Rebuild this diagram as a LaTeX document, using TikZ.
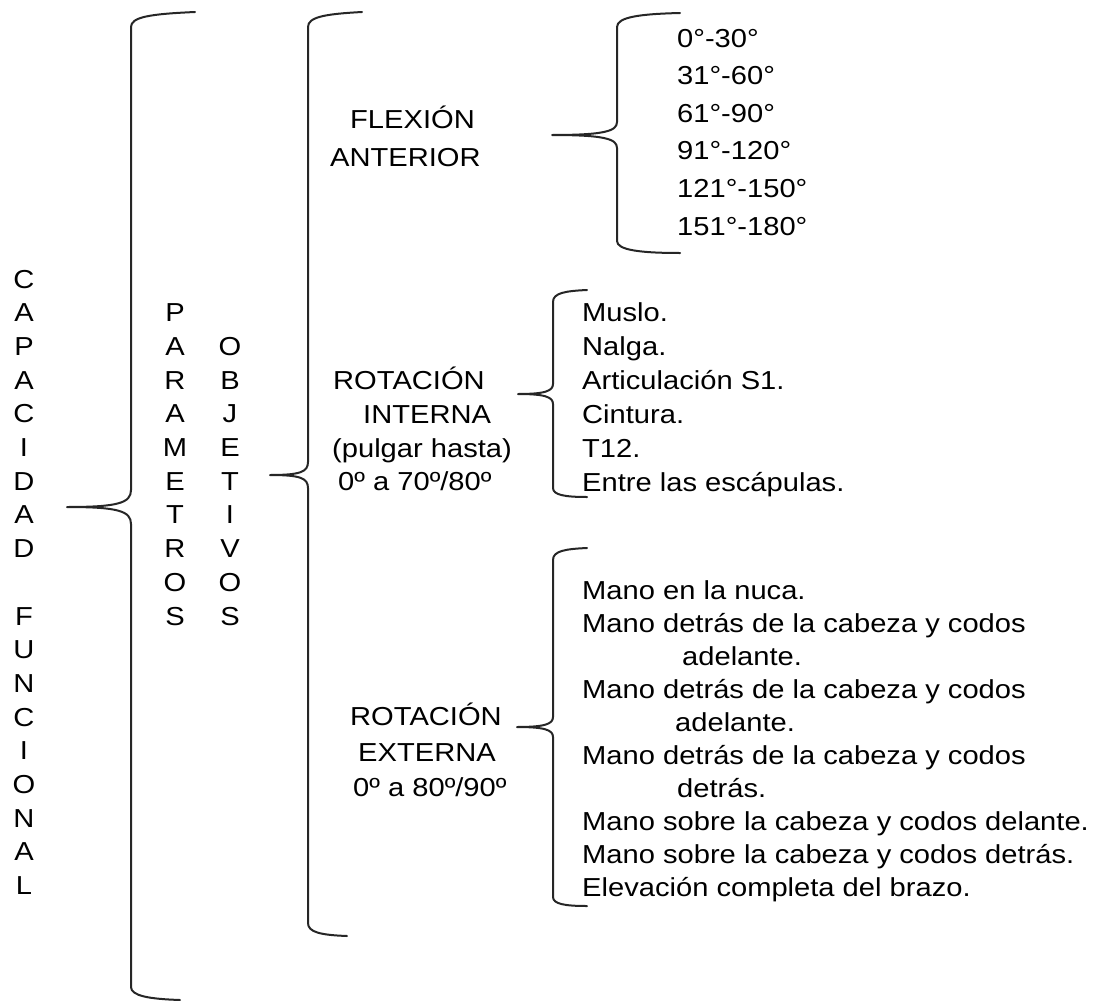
\documentclass[tikz,border=0pt]{standalone}
\usepackage{fontspec}
\setmainfont[FakeStretch=1.12]{Liberation Sans}
\begin{document}
\begin{tikzpicture}[x=1pt,y=-1pt,
  brace/.style={line width=2pt, draw=black!85, line cap=round, line join=round},
  txt/.style={anchor=base west, inner sep=0pt, font=\fontsize{26}{30}\selectfont},
  ltr/.style={anchor=base, inner sep=0pt, font=\fontsize{26}{30}\selectfont}]
\useasboundingbox (0,0) rectangle (1098,1001);

% ---- braces ----
\coordinate (t1) at (67,507);
\draw[brace] (195,12) .. controls (150,14) and (131,17) .. (131,27) -- (131,490)
  .. controls (131,503) and (118,507) .. (t1)
  .. controls (118,507) and (131,511) .. (131,524) -- (131,987)
  .. controls (131,996) and (150,999) .. (180,1000);
\coordinate (t2) at (270,475);
\draw[brace] (362,12) .. controls (325,14) and (308,17) .. (308,27) -- (308,462)
  .. controls (308,472) and (300,475) .. (t2)
  .. controls (300,475) and (308,478) .. (308,488) -- (308,923)
  .. controls (308,932) and (320,935) .. (347,936);
\coordinate (t3) at (552,135);
\draw[brace] (680,13) .. controls (640,14) and (617,17) .. (617,27) -- (617,122)
  .. controls (617,131) and (605,135) .. (t3)
  .. controls (605,135) and (617,139) .. (617,148) -- (617,241)
  .. controls (617,250) and (640,253) .. (680,253);
\coordinate (t4) at (518,394);
\draw[brace] (587,290) .. controls (565,291) and (553,293) .. (553,302) -- (553,384)
  .. controls (553,391) and (545,394) .. (t4)
  .. controls (545,394) and (553,397) .. (553,404) -- (553,488)
  .. controls (553,495) and (565,497) .. (587,497);
\coordinate (t5) at (517,727);
\draw[brace] (587,548) .. controls (565,549) and (553,551) .. (553,560) -- (553,717)
  .. controls (553,724) and (545,727) .. (t5)
  .. controls (545,727) and (553,730) .. (553,737) -- (553,897)
  .. controls (553,904) and (565,906) .. (587,906);

% ---- vertical words ----
\foreach \l [count=\i from 0] in {C,A,P,A,C,I,D,A,D,{},F,U,N,C,I,O,N,A,L}
  \node[ltr] (cf\i) at (24,288+33.7*\i) {\l};
\foreach \l [count=\i from 1] in {P,A,R,A,M,E,T,R,O,S}
  \node[ltr] (pa\i) at (175,288+33.7*\i) {\l};
\foreach \l [count=\i from 2] in {O,B,J,E,T,I,V,O,S}
  \node[ltr] (ob\i) at (230,288+33.7*\i) {\l};

% ---- middle labels ----
\node[txt] (fl1) at (350,128) {FLEXIÓN};
\node[txt] (fl2) at (330,166) {ANTERIOR};

\node[txt] (ri1) at (333,389) {ROTACIÓN};
\node[txt] (ri2) at (363,423) {INTERNA};
\node[txt] (ri3) at (332,457) {(pulgar hasta)};
\node[txt] (ri4) at (338,490) {0º a 70º/80º};

\node[txt] (re1) at (350,725) {ROTACIÓN};
\node[txt] (re2) at (358,761) {EXTERNA};
\node[txt] (re3) at (353,796) {0º a 80º/90º};

% ---- degree list ----
\foreach \t [count=\i from 0] in {0°-30°,31°-60°,61°-90°,91°-120°,121°-150°,151°-180°}
  \node[txt] (dg\i) at (677,47+37.6*\i) {\t};

% ---- internal rotation list ----
\foreach \t [count=\i from 0] in {Muslo.,Nalga.,Articulación S1.,Cintura.,T12.,Entre las escápulas.}
  \node[txt] (il\i) at (582,321+34*\i) {\t};

% ---- external rotation list ----
\node[txt] (el0) at (582,599) {Mano en la nuca.};
\node[txt] (el1) at (582,632.1) {Mano detrás de la cabeza y codos};
\node[txt] (el2) at (682,665.2) {adelante.};
\node[txt] (el3) at (582,698.3) {Mano detrás de la cabeza y codos};
\node[txt] (el4) at (675,731.4) {adelante.};
\node[txt] (el5) at (582,764.5) {Mano detrás de la cabeza y codos};
\node[txt] (el6) at (677,797.6) {detrás.};
\node[txt] (el7) at (582,830.7) {Mano sobre la cabeza y codos delante.};
\node[txt] (el8) at (582,863.8) {Mano sobre la cabeza y codos detrás.};
\node[txt] (el9) at (582,896.9) {Elevación completa del brazo.};
\end{tikzpicture}
\end{document}
